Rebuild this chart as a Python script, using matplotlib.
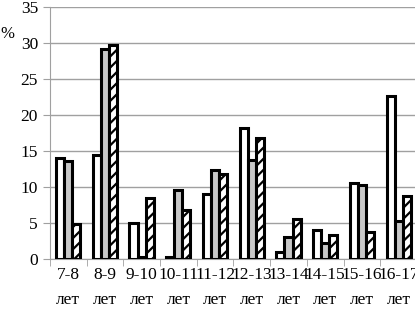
import matplotlib.pyplot as plt
import numpy as np

plt.rcParams['font.family'] = ['Liberation Serif', 'DejaVu Serif']
plt.rcParams['hatch.linewidth'] = 1.6

categories = ["7-8", "8-9", "9-10", "10-11", "11-12", "12-13", "13-14", "14-15", "15-16", "16-17"]
series_white = [14.0, 14.4, 5.0, 0.3, 9.0, 18.2, 1.0, 4.0, 10.6, 22.7]
series_gray = [13.6, 29.2, 0.3, 9.6, 12.3, 13.7, 3.0, 2.2, 10.3, 5.3]
series_hatch = [4.8, 29.8, 8.5, 6.8, 11.8, 16.8, 5.5, 3.3, 3.7, 8.8]

fig = plt.figure(figsize=(4.15, 3.1), dpi=100)
ax = fig.add_axes([0.12, 0.165, 0.885, 0.812])

x = np.arange(len(categories))
w = 0.22
ax.bar(x - w, series_white, w, color="white", edgecolor="black", linewidth=2.2, zorder=3)
ax.bar(x, series_gray, w, color="#c8c8c8", edgecolor="black", linewidth=2.2, zorder=3)
ax.bar(x + w, series_hatch, w, color="white", edgecolor="black", linewidth=2.2, hatch="///", zorder=3)

ax.set_ylim(0, 35)
ax.set_yticks(range(0, 36, 5))
ax.set_xlim(-0.5, len(categories) - 0.5)
ax.yaxis.grid(True, color="#a0a0a0", linewidth=1)
ax.set_axisbelow(True)

ax.set_xticks(x)
ax.set_xticklabels([c + "\nлет" for c in categories], linespacing=1.7, fontsize=12.5)
ax.set_xticks(np.arange(-0.5, len(categories), 1), minor=True)
ax.tick_params(axis="x", which="major", length=0, pad=6)
ax.tick_params(axis="x", which="minor", length=5, color="#a0a0a0")
ax.tick_params(axis="y", length=5, color="#a0a0a0", labelsize=12.5)

for s in ["top", "right"]:
    ax.spines[s].set_visible(False)
ax.spines["left"].set_color("#a0a0a0")
ax.spines["bottom"].set_color("#a0a0a0")

fig.text(0.0, 0.89, "%", fontsize=12, va="center")

fig.savefig("out.png", dpi=100)
